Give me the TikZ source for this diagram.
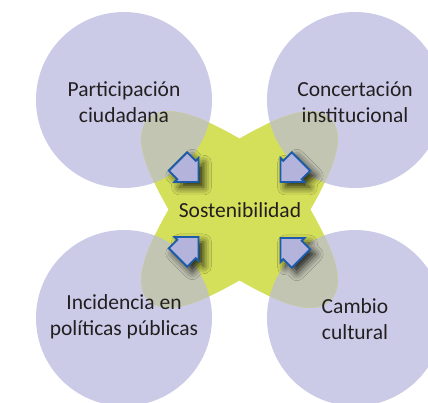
\documentclass[tikz,border=0pt]{standalone}
\usepackage{fontspec}
\setmainfont{Carlito}
\usepackage{tikz}
\usetikzlibrary{shadows.blur}
\definecolor{lila}{HTML}{CBCBE8}
\definecolor{amarillo}{HTML}{D5E05A}
\definecolor{gris}{HTML}{C3C5B3}
\definecolor{flechafill}{HTML}{B3B3DB}
\definecolor{flechaborde}{HTML}{1C5BAA}
\definecolor{tinta}{HTML}{231F20}
\newcommand{\cruz}{(0,71) .. controls (-30,88) and (-72,110) .. (-91,91) .. controls (-110,72) and (-88,30) .. (-71,0)
	.. controls (-88,-30) and (-110,-72) .. (-91,-91) .. controls (-72,-110) and (-30,-88) .. (0,-71)
	.. controls (30,-88) and (72,-110) .. (91,-91) .. controls (110,-72) and (88,-30) .. (71,0)
	.. controls (88,30) and (110,72) .. (91,91) .. controls (72,110) and (30,88) .. (0,71) -- cycle}

\begin{document}
\begin{tikzpicture}[x=1pt,y=1pt,
		bubble/.style={circle,fill=lila,minimum size=176pt,inner sep=0pt},
		lbl/.style={align=center,text=tinta,font=\fontsize{21.5}{26}\selectfont},
		flecha/.style={fill=flechafill,draw=flechaborde,line width=1.8pt,line join=miter,
			blur shadow={shadow xshift=5pt,shadow yshift=-5pt,shadow blur radius=8pt,shadow opacity=85}}]
		\clip (-239.5,-193.5) rectangle (188.5,209.5);
		
		\node[bubble] (part) at (-115.5,109.5) {};
		\node[bubble] (conc) at (115.5,109.5) {};
		\node[bubble] (inci) at (-115.5,-108.5) {};
		\node[bubble] (camb) at (115.5,-108.5) {};
		
		\fill[amarillo] \cruz;
		\foreach \c in {part,conc,inci,camb} {
			\begin{scope}
				\clip (\c.center) circle (88pt);
				\fill[gris] \cruz;
			\end{scope}
		}
		
		\node[lbl] at ([yshift=-2pt]part.center) {Participación\\ciudadana};
		\node[lbl] at ([yshift=-2pt]conc.center) {Concertación\\institucional};
		\node[lbl] at ([yshift=1pt]inci.center) {Incidencia en\\políticas públicas};
		\node[lbl] at ([yshift=-1pt]camb.center) {Cambio\\cultural};
		
		\foreach \tx/\ty/\sx/\sy in {-41/27.5/1/1, 41/27.5/-1/1, -41/-27.5/1/-1, 41/-28.5/-1/-1}
			\draw[flecha,shift={(\tx,\ty)}] (0,0) -- (0,{24*\sy}) -- ({-2.8*\sx},{21.2*\sy}) -- ({-11.3*\sx},{29.7*\sy})
				-- ({-29.7*\sx},{11.3*\sy}) -- ({-21.2*\sx},{2.8*\sy}) -- ({-24*\sx},0) -- cycle;
		
		\node[lbl] (sost) at (0.5,-0.5) {Sostenibilidad};
		
	\end{tikzpicture}
\end{document}
